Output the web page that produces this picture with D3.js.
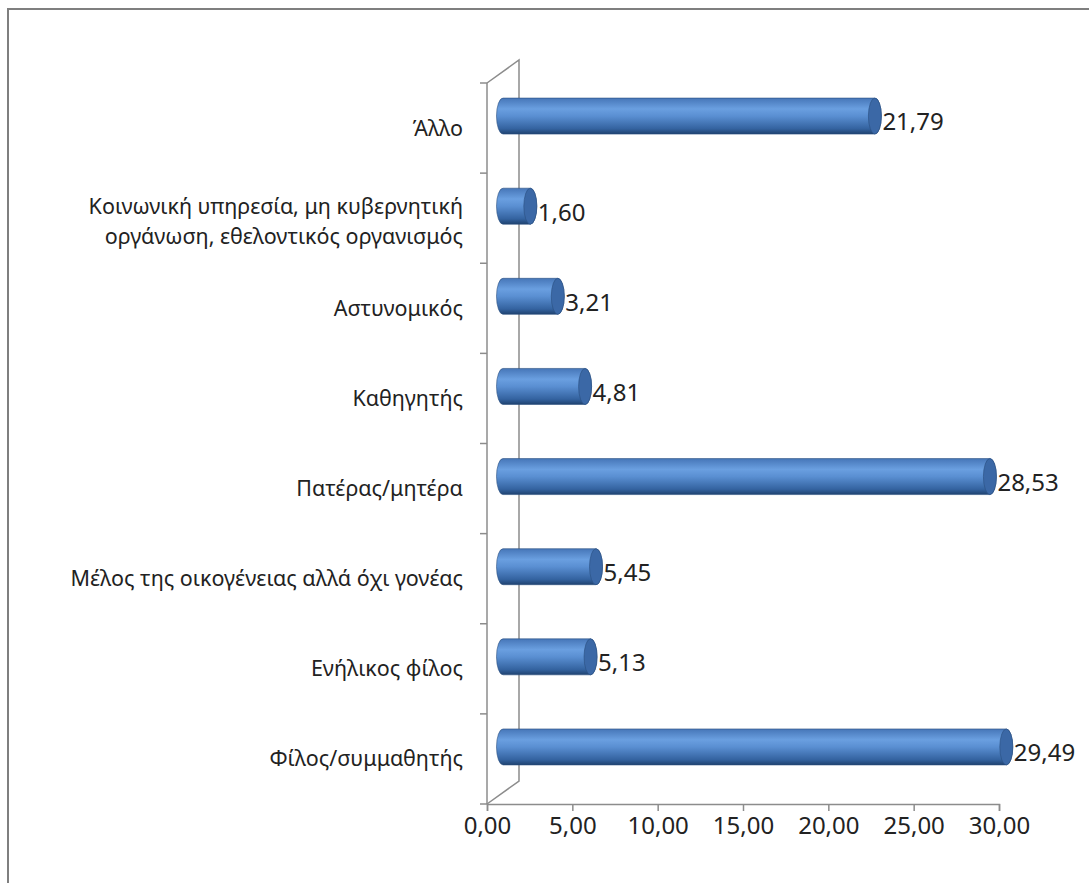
<!DOCTYPE html>
<html>
<head>
<meta charset="utf-8">
<script src="https://cdn.jsdelivr.net/npm/d3@7"></script>
<style>
  body { margin: 0; background: #fff; }
  svg { display: block; }
  text { font-family: "Noto Sans", sans-serif; fill: #222; }
</style>
</head>
<body>
<div id="chart"></div>
<script>
// categories listed top to bottom, as they appear
const categories = [
    "Άλλο",
    "Κοινωνική υπηρεσία, μη κυβερνητική\nοργάνωση, εθελοντικός οργανισμός",
    "Αστυνομικός",
    "Καθηγητής",
    "Πατέρας/μητέρα",
    "Μέλος της οικογένειας αλλά όχι γονέας",
    "Ενήλικος φίλος",
    "Φίλος/συμμαθητής"
];
const values = [21.79, 1.60, 3.21, 4.81, 28.53, 5.45, 5.13, 29.49];
const xTicks = [0, 5, 10, 15, 20, 25, 30];

const width = 1089, height = 883;
const svg = d3.select("#chart").append("svg")
    .attr("width", width)
    .attr("height", height);

// frame
svg.append("path")
    .attr("d", `M8,${height} L8,9 L${width},9`)
    .attr("fill", "none")
    .attr("stroke", "#7f7f7f")
    .attr("stroke-width", 2);

const x = d3.scaleLinear().domain([0, 30]).range([487, 999]);
const y = d3.scaleBand().domain(categories).range([83, 804]);

const depth = { dx: 32, dy: -23 };
const fmt = d => d3.format(".2f")(d).replace(".", ",");

// gradient for cylinders
const defs = svg.append("defs");
const grad = defs.append("linearGradient")
    .attr("id", "cyl").attr("x1", 0).attr("y1", 0).attr("x2", 0).attr("y2", 1);
[[0, "#4676b8"], [0.3, "#6a9fe0"], [0.5, "#5a8fd2"], [0.85, "#3463a0"], [1, "#1f426f"]]
    .forEach(([o, c]) => grad.append("stop").attr("offset", o).attr("stop-color", c));

// 3D walls
const axes = svg.append("g").attr("fill", "none").attr("stroke", "#8c8c8c").attr("stroke-width", 1.5);
const x0 = x(0), yTop = y.range()[0], yBot = y.range()[1];
axes.append("path")
    .attr("d", `M${x0},${yTop} L${x0 + depth.dx},${yTop + depth.dy} L${x0 + depth.dx},${yBot + depth.dy} L${x0},${yBot}`);
axes.append("line")
    .attr("x1", x0).attr("x2", x0).attr("y1", yTop).attr("y2", yBot);

// y ticks
axes.selectAll(".ytick")
    .data(categories.map(c => y(c)).concat([yBot]))
    .join("line")
    .attr("x1", x0 - 7).attr("x2", x0)
    .attr("y1", d => d).attr("y2", d => d);

// x axis
const xAxis = svg.append("g")
    .attr("transform", `translate(0,${yBot})`)
    .call(d3.axisBottom(x).tickValues(xTicks).tickSize(7).tickPadding(6).tickFormat(fmt));
xAxis.select(".domain").attr("stroke", "#8c8c8c").attr("stroke-width", 1.5);
xAxis.selectAll(".tick line").attr("stroke", "#8c8c8c").attr("stroke-width", 1.5);
xAxis.selectAll(".tick text")
    .attr("font-family", "'Noto Sans', sans-serif")
    .attr("font-size", 24)
    .attr("fill", "#222");

// bars as cylinders
const barH = 36, rx = 6.5, off = 16, lift = 12;
const bars = svg.append("g");
categories.forEach((c, i) => {
    const cy = y(c) + y.bandwidth() / 2 - lift;
    const xa = x(0) + off, xb = x(values[i]) + off;
    const g = bars.append("g");
    g.append("path")
        .attr("d", `M${xa},${cy - barH / 2} L${xb},${cy - barH / 2}
            A${rx},${barH / 2} 0 0 1 ${xb},${cy + barH / 2}
            L${xa},${cy + barH / 2}
            A${rx},${barH / 2} 0 0 1 ${xa},${cy - barH / 2} Z`)
        .attr("fill", "url(#cyl)")
        .attr("stroke", "#2a4f80")
        .attr("stroke-width", 0.6);
    g.append("ellipse")
        .attr("cx", xb).attr("cy", cy)
        .attr("rx", rx).attr("ry", barH / 2)
        .attr("fill", "#3b68a6")
        .attr("stroke", "#2a4f80")
        .attr("stroke-width", 0.6);
    svg.append("text")
        .attr("x", xb + rx + 1)
        .attr("y", cy + 6)
        .attr("dy", "0.35em")
        .attr("font-size", 24)
        .text(fmt(values[i]));
});

// category labels
svg.append("g").selectAll("text")
    .data(categories)
    .join("text")
    .attr("text-anchor", "end")
    .attr("font-size", 21.5)
    .attr("x", 463)
    .attr("y", d => y(d) + y.bandwidth() / 2)
    .each(function (d) {
        const lines = d.split("\n");
        const t = d3.select(this);
        lines.forEach((l, k) => {
            t.append("tspan")
                .attr("x", 463)
                .attr("dy", k === 0 ? `${0.35 - (lines.length - 1) * 0.55}em` : "1.4em")
                .text(l);
        });
    });
</script>
</body>
</html>
